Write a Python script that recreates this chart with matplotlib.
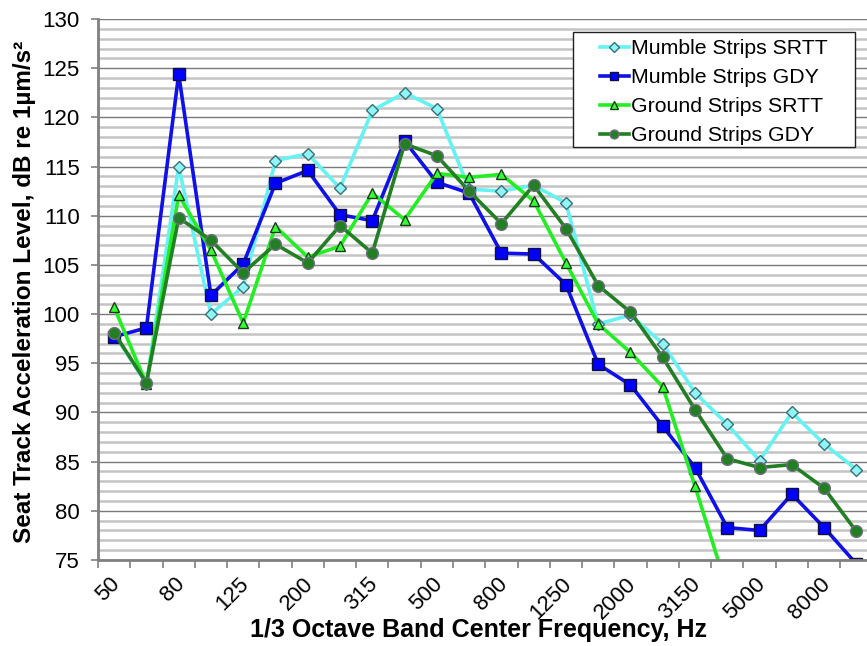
import numpy as np
import matplotlib
matplotlib.use("Agg")
import matplotlib.pyplot as plt
from matplotlib.ticker import MultipleLocator, FixedLocator
from matplotlib.patches import Rectangle

plt.rcParams.update({
    "font.family": ["Liberation Sans", "DejaVu Sans"],
    "font.size": 15,
})

# 1/3 octave band centre frequencies (Hz)
bands = ["50", "63", "80", "100", "125", "160", "200", "250", "315", "400",
         "500", "630", "800", "1000", "1250", "1600", "2000", "2500", "3150",
         "4000", "5000", "6300", "8000", "10000"]

mumble_srtt = [98.0, 92.9, 115.0, 100.0, 102.8, 115.6, 116.3, 112.8, 120.7, 122.5,
               120.9, 112.7, 112.5, 113.1, 111.3, 99.0, 99.9, 97.0, 92.0, 88.8,
               85.1, 90.0, 86.8, 84.2]
mumble_gdy = [97.7, 98.6, 124.4, 101.9, 105.1, 113.3, 114.6, 110.1, 109.5, 117.6,
              113.4, 112.3, 106.2, 106.1, 103.0, 94.9, 92.8, 88.6, 84.4, 78.3,
              78.0, 81.7, 78.3, 74.6]
ground_srtt = [100.7, 92.9, 112.1, 106.5, 99.1, 108.9, 105.8, 106.9, 112.3, 109.6,
               114.3, 113.9, 114.2, 111.5, 105.2, 99.0, 96.1, 92.6, 82.5, 72.0,
               np.nan, np.nan, np.nan, np.nan]
ground_gdy = [98.1, 93.0, 109.8, 107.5, 104.2, 107.1, 105.2, 109.0, 106.2, 117.3,
              116.1, 112.5, 109.2, 113.1, 108.7, 102.9, 100.2, 95.6, 90.3, 85.3,
              84.4, 84.7, 82.3, 77.9]

x = np.arange(len(bands))

W, H = 867, 646
fig = plt.figure(figsize=(W / 100, H / 100), dpi=100)
# plot area runs a little past the right edge of the picture, as in the original
ax = fig.add_axes([98 / W, 1 - 560 / H, 774.5 / W, 541 / H])

ax.plot(x, mumble_srtt, color="#66f2f2", lw=2.6, marker="D", ms=6.5,
        mfc="#8ff5f5", mec="#3a6f78", mew=1.0, label="Mumble Strips SRTT")
ax.plot(x, mumble_gdy, color="#1010e8", lw=2.6, marker="s", ms=8.5,
        mfc="#0000ff", mec="#101040", mew=1.0, label="Mumble Strips GDY")
ax.plot(x, ground_srtt, color="#22ee22", lw=2.6, marker="^", ms=7.5,
        mfc="#33ff33", mec="#1a3a1a", mew=1.0, label="Ground Strips SRTT")
ax.plot(x, ground_gdy, color="#237f23", lw=2.6, marker="o", ms=8.5,
        mfc="#237f23", mec="#6f6f7f", mew=1.0, label="Ground Strips GDY")

ax.set_xlim(-0.5, len(bands) - 0.5)
ax.set_ylim(75, 130)

# y axis: labelled every 5 dB, gridline every 1 dB
ax.yaxis.set_major_locator(MultipleLocator(5))
ax.yaxis.set_minor_locator(MultipleLocator(1))
ax.yaxis.grid(True, which="minor", color="#c4c4c4", lw=1.8)
ax.yaxis.grid(True, which="major", color="#7a7a7a", lw=1.0)
ax.set_axisbelow(True)
ax.tick_params(axis="y", which="major", direction="out", length=5,
               width=1.2, color="#808080", pad=8, labelsize=16)
ax.tick_params(axis="y", which="minor", length=0)

# x axis: tick marks at category boundaries, labels on every other band
ax.xaxis.set_major_locator(FixedLocator(np.arange(len(bands) + 1) - 0.5))
ax.xaxis.set_minor_locator(FixedLocator(x[::2] + 0.08))
ax.set_xticklabels([])
ax.set_xticklabels(bands[::2], minor=True, rotation=45, ha="right",
                   va="center", rotation_mode="anchor")
ax.tick_params(axis="x", which="major", direction="out", length=6,
               width=1.2, color="#808080")
ax.tick_params(axis="x", which="minor", length=0, pad=15, labelsize=16)

for side in ("top", "right"):
    ax.spines[side].set_visible(False)
for side in ("left", "bottom"):
    ax.spines[side].set_color("#808080")
    ax.spines[side].set_linewidth(2.0)

ax.set_xlabel("1/3 Octave Band Center Frequency, Hz", fontweight="bold",
              fontsize=18)
ax.set_ylabel("Seat Track Acceleration Level, dB re 1\u00b5m/s\u00b2",
              fontweight="bold", fontsize=17.5)
ax.xaxis.set_label_coords((479 - 98) / 774.5, -(630 - 560) / 541)
ax.xaxis.label.set_va("center")
ax.yaxis.set_label_coords(-(98 - 25) / 774.5, 0.495)
ax.yaxis.label.set_va("center")

# legend box drawn separately so the side padding can be wider than the top
box = Rectangle((573 / W, 1 - 147 / H), 282 / W, 115 / H,
                transform=fig.transFigure, facecolor="white",
                edgecolor="#202020", lw=1.0, zorder=4.9)
ax.add_patch(box)
box.set_clip_on(False)
leg = ax.legend(loc="upper left", bbox_to_anchor=(600 / W, 1 - 39 / H),
                bbox_transform=fig.transFigure, borderaxespad=0, borderpad=0,
                frameon=False, fontsize=15.3, handlelength=1.35,
                handletextpad=0.1, labelspacing=0.47, markerscale=0.75)
leg.set_zorder(5)

fig.savefig("out.png", dpi=100)
